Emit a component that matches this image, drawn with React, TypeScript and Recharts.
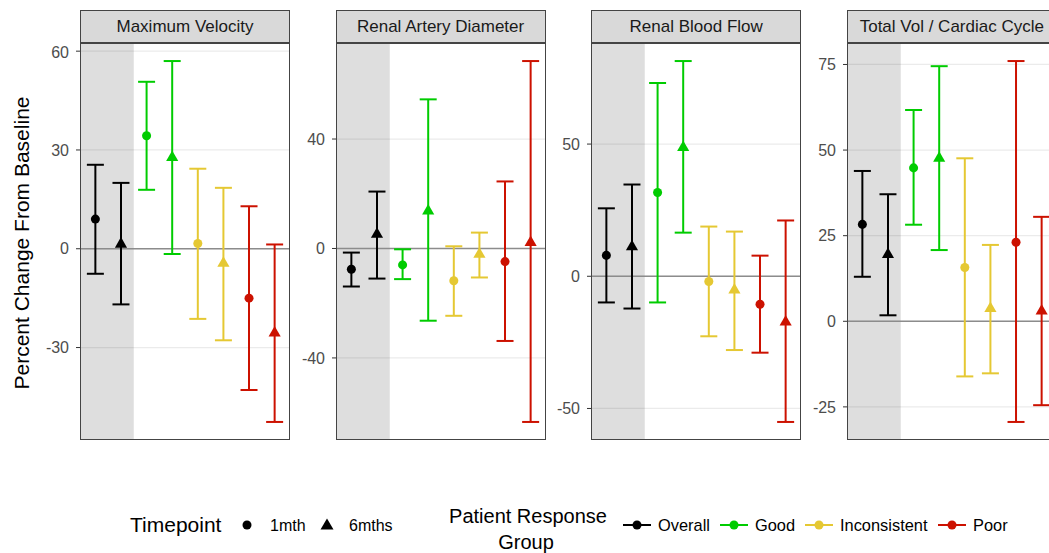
import {
  CartesianGrid,
  ComposedChart,
  ErrorBar,
  ReferenceArea,
  ReferenceLine,
  Scatter,
  XAxis,
  YAxis,
  ZAxis,
} from "recharts";

const FONT = '"Liberation Sans", Arial, Helvetica, sans-serif';

const groups = ["Overall", "Good", "Inconsistent", "Poor"];
const timepoints = ["1mth", "6mths"];
const groupColors = ["#000000", "#00CC00", "#E5C833", "#CC1100"];

const panelTitles = ["Maximum Velocity", "Renal Artery Diameter", "Renal Blood Flow", "Total Vol / Cardiac Cycle"];
const panelTicks = [
  [-30, 0, 30, 60],
  [-40, 0, 40],
  [-50, 0, 50],
  [-25, 0, 25, 50, 75],
];

// order: Overall 1mth, Overall 6mths, Good 1mth, Good 6mths, Inconsistent 1mth, ..., Poor 6mths
const maxVelocityMean = [9.0, 1.4, 34.3, 27.7, 1.6, -4.4, -15.0, -25.6];
const maxVelocityLower = [-7.6, -16.9, 17.9, -1.6, -21.3, -27.8, -42.9, -52.6];
const maxVelocityUpper = [25.5, 20.0, 50.7, 57.0, 24.3, 18.5, 12.9, 1.3];

const arteryDiamMean = [-7.6, 5.2, -6.0, 13.7, -11.8, -2.1, -4.8, 2.2];
const arteryDiamLower = [-13.9, -11.0, -11.2, -26.4, -24.6, -10.6, -33.8, -63.4];
const arteryDiamUpper = [-1.5, 20.8, -0.3, 54.5, 0.8, 5.8, 24.5, 68.5];

const bloodFlowMean = [7.9, 11.2, 31.7, 48.7, -2.0, -5.2, -10.6, -17.3];
const bloodFlowLower = [-9.9, -12.2, -9.9, 16.5, -22.7, -27.9, -28.9, -55.1];
const bloodFlowUpper = [25.7, 34.7, 73.1, 81.4, 18.8, 16.9, 7.8, 21.1];

const totalVolMean = [28.3, 19.5, 44.8, 47.6, 15.7, 3.7, 23.1, 3.0];
const totalVolLower = [13.0, 1.75, 28.2, 20.8, -16.1, -15.2, -29.4, -24.5];
const totalVolUpper = [43.9, 37.1, 61.7, 74.5, 47.6, 22.3, 76.0, 30.5];

const panelMeans = [maxVelocityMean, arteryDiamMean, bloodFlowMean, totalVolMean];
const panelLowers = [maxVelocityLower, arteryDiamLower, bloodFlowLower, totalVolLower];
const panelUppers = [maxVelocityUpper, arteryDiamUpper, bloodFlowUpper, totalVolUpper];

const PLOT_W = 210;
const PLOT_TOP = 43;
const PLOT_H = 397;
const Y_W = 60;
const panelLefts = [80, 335.6, 591.2, 846.8];

function buildRows(p: number) {
  return panelMeans[p].map((m, k) => ({
    x: k + 1,
    y: m,
    err: [m - panelLowers[p][k], panelUppers[p][k] - m],
    group: Math.floor(k / 2),
    time: k % 2,
  }));
}

function Panel({ p }: { p: number }) {
  const rows = buildRows(p);
  const lo = Math.min(...panelLowers[p]);
  const hi = Math.max(...panelUppers[p]);
  const pad = (hi - lo) * 0.05;
  const left = panelLefts[p];
  return (
    <>
      <div
        style={{
          position: "absolute",
          left,
          top: 10,
          width: PLOT_W,
          height: 33,
          boxSizing: "border-box",
          background: "#D9D9D9",
          border: "1px solid #444",
          color: "#1A1A1A",
          fontSize: 17,
          lineHeight: "31px",
          textAlign: "center",
          whiteSpace: "nowrap",
        }}
      >
        {panelTitles[p]}
      </div>
      <div style={{ position: "absolute", left: left - Y_W, top: PLOT_TOP }}>
        <ComposedChart width={PLOT_W + Y_W} height={PLOT_H} margin={{ top: 0, right: 0, bottom: 0, left: 0 }}>
          <CartesianGrid vertical={false} stroke="#EBEBEB" strokeWidth={1.2} />
          <XAxis type="number" dataKey="x" domain={[0.4, 8.6]} hide allowDataOverflow />
          <YAxis
            type="number"
            dataKey="y"
            width={Y_W}
            domain={[lo - pad, hi + pad]}
            ticks={panelTicks[p]}
            allowDataOverflow
            axisLine={false}
            tickSize={4}
            tickMargin={7}
            tickLine={{ stroke: "#333" }}
            tick={{ fill: "#4D4D4D", fontSize: 16, fontFamily: FONT }}
          />
          <ZAxis range={[64, 64]} />
          <ReferenceArea x1={0.4} x2={2.5} fill="#000" fillOpacity={0.13} stroke="none" ifOverflow="hidden" />
          <ReferenceLine y={0} stroke="#8C8C8C" strokeWidth={1.6} />
          {rows.map((r) => (
            <Scatter
              key={r.x}
              data={[r]}
              fill={groupColors[r.group]}
              shape={r.time === 0 ? "circle" : "triangle"}
              isAnimationActive={false}
            >
              <ErrorBar
                dataKey="err"
                direction="y"
                width={8.5}
                stroke={groupColors[r.group]}
                strokeWidth={2}
                isAnimationActive={false}
              />
            </Scatter>
          ))}
        </ComposedChart>
      </div>
      <div
        style={{
          position: "absolute",
          left,
          top: PLOT_TOP,
          width: PLOT_W,
          height: PLOT_H,
          boxSizing: "border-box",
          border: "1px solid #444",
          pointerEvents: "none",
        }}
      />
    </>
  );
}

function Legend() {
  const keyStarts = [623, 720, 805, 938];
  const cy = 525;
  return (
    <svg width={1049} height={553} style={{ position: "absolute", left: 0, top: 0, pointerEvents: "none" }} fontFamily={FONT}>
      <text x={21} y={243} fontSize={21} fill="#000" textAnchor="middle" dominantBaseline="central" transform="rotate(-90 21 243)">
        Percent Change From Baseline
      </text>
      <text x={130} y={cy + 7} fontSize={21} fill="#000">Timepoint</text>
      <circle cx={247} cy={cy} r={4.5} fill="#000" />
      <text x={270} y={cy + 6} fontSize={16} fill="#000">{timepoints[0]}</text>
      <path d={`M327,${cy - 6.5} L333.5,${cy + 4.5} L320.5,${cy + 4.5} Z`} fill="#000" />
      <text x={349} y={cy + 6} fontSize={16} fill="#000">{timepoints[1]}</text>
      <text x={528} y={523} fontSize={20} fill="#000" textAnchor="middle">Patient Response</text>
      <text x={526} y={549} fontSize={20} fill="#000" textAnchor="middle">Group</text>
      {groups.map((g, i) => (
        <g key={g}>
          <line x1={keyStarts[i]} x2={keyStarts[i] + 28} y1={cy} y2={cy} stroke={groupColors[i]} strokeWidth={2} />
          <circle cx={keyStarts[i] + 14} cy={cy} r={4.5} fill={groupColors[i]} />
          <text x={keyStarts[i] + 35} y={cy + 6} fontSize={16.4} fill="#000">{g}</text>
        </g>
      ))}
    </svg>
  );
}

export default function App() {
  return (
    <div
      style={{
        position: "absolute",
        left: 0,
        top: 0,
        width: 1049,
        height: 553,
        overflow: "hidden",
        background: "#fff",
        fontFamily: FONT,
      }}
    >
      {panelTitles.map((_, p) => (
        <Panel key={p} p={p} />
      ))}
      <Legend />
    </div>
  );
}
